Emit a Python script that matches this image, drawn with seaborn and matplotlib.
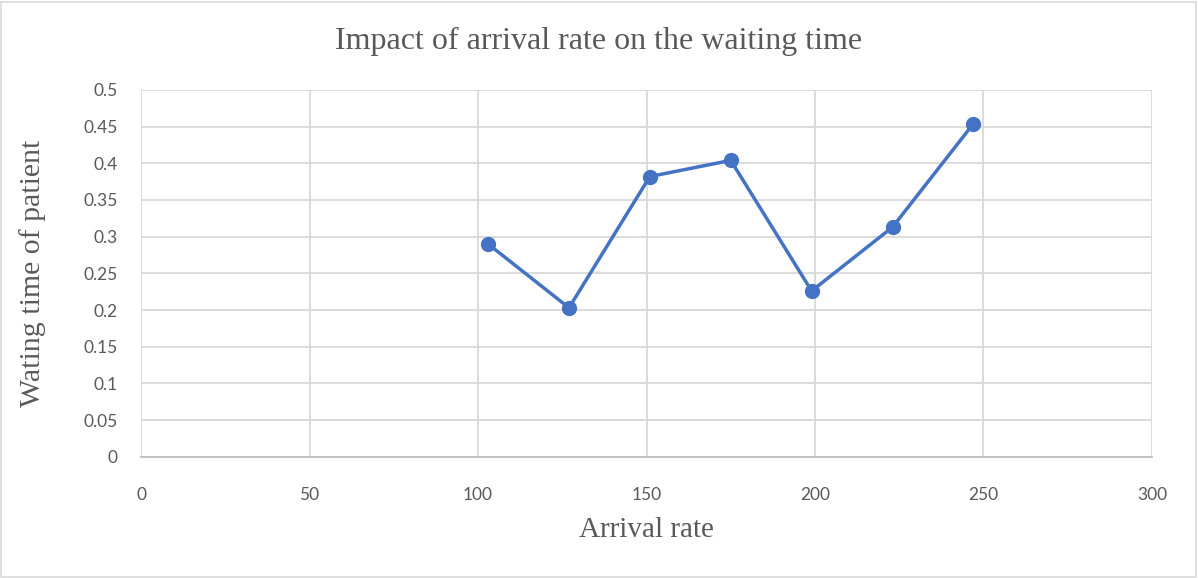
import matplotlib
matplotlib.use('agg')
import matplotlib.pyplot as plt
import seaborn as sns
import pandas as pd

arrival_rate = [103, 127, 151, 175, 199, 223, 247]
waiting_time = [0.290, 0.203, 0.382, 0.404, 0.226, 0.313, 0.454]
x_ticks = [0, 50, 100, 150, 200, 250, 300]
y_ticks = [0, 0.05, 0.1, 0.15, 0.2, 0.25, 0.3, 0.35, 0.4, 0.45, 0.5]
y_tick_labels = ['0', '0.05', '0.1', '0.15', '0.2', '0.25', '0.3', '0.35', '0.4', '0.45', '0.5']

if __name__ == '__main__':
    sns.set_style('white')
    plt.rcParams['font.family'] = ['Lato', 'DejaVu Sans']

    data = pd.DataFrame({'arrival_rate': arrival_rate, 'waiting_time': waiting_time})

    fig = plt.figure(figsize=(11.98, 5.78), dpi=100)
    ax = fig.add_axes([0.1177, 0.2099, 0.8439, 0.6344])

    sns.lineplot(data=data, x='arrival_rate', y='waiting_time', ax=ax,
                 color='#4472C4', linewidth=2.5, marker='o', markersize=11,
                 markeredgewidth=0, zorder=3)

    ax.set_xlim(0, 300)
    ax.set_ylim(0, 0.5)
    ax.set_xticks(x_ticks)
    ax.set_yticks(y_ticks)
    ax.set_yticklabels(y_tick_labels)
    ax.grid(True, color='#d9d9d9', linewidth=1.3)
    ax.set_axisbelow(True)
    for side in ['left', 'top', 'right']:
        ax.spines[side].set_visible(False)
    ax.spines['bottom'].set_color('#bfbfbf')
    ax.spines['bottom'].set_linewidth(1.3)
    ax.tick_params(axis='both', length=0, labelsize=12.5, labelcolor='#595959')
    ax.tick_params(axis='x', pad=22)
    ax.tick_params(axis='y', pad=17)

    serif = ['Liberation Serif', 'DejaVu Serif']
    ax.set_xlabel('Arrival rate', fontsize=21, color='#595959', family=serif, labelpad=10)
    ax.set_ylabel('Wating time of patient', fontsize=21.5, color='#595959', family=serif, labelpad=27)
    fig.text(0.5, 0.929, 'Impact of arrival rate on the waiting time', ha='center', va='center',
             fontsize=23, color='#595959', family=serif)

    border = plt.Rectangle((0.001, 0.002), 0.997, 0.995, transform=fig.transFigure,
                           fill=False, edgecolor='#d9d9d9', linewidth=1.2)
    fig.patches.append(border)

    plt.savefig('out.png', dpi=100)
